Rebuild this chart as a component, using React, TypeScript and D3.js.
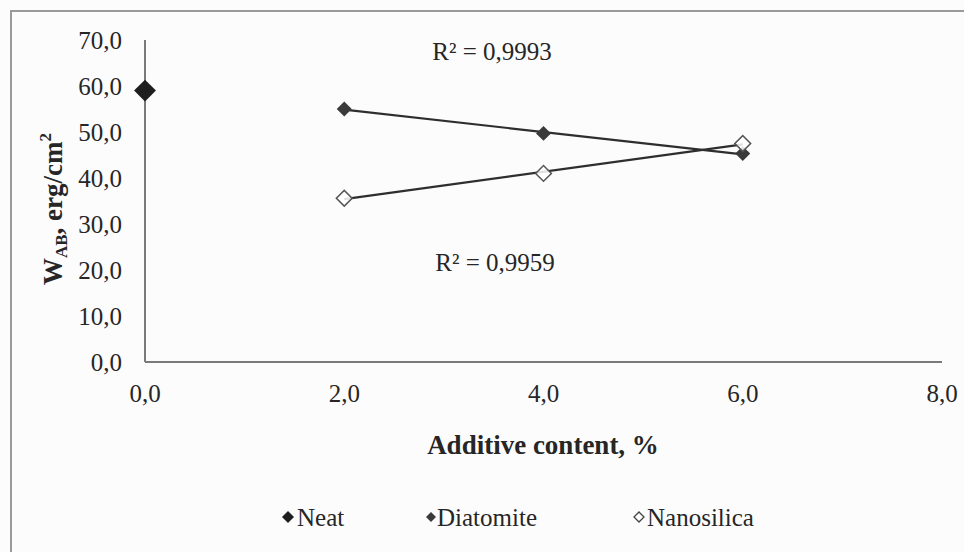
import React from "react";
import * as d3 from "d3";

// Work of adhesion W_AB (erg/cm²) against additive content (%)
const neatX = [0];
const neatY = [59.0];
const contentX = [2, 4, 6];
const diatomiteY = [55.0, 49.7, 45.3];
const nanosilicaY = [35.6, 41.0, 47.5];
const yTicks = [0, 10, 20, 30, 40, 50, 60, 70];
const xTicks = [0, 2, 4, 6, 8];
const r2Labels = ["R² = 0,9993", "R² = 0,9959"];
const legendNames = ["Neat", "Diatomite", "Nanosilica"];

const W = 964;
const H = 552;
const plot = { left: 145, right: 942, top: 40, bottom: 362 };
const serif = "'Liberation Serif', 'Times New Roman', serif";
const ink = "#262626";

const fmt = (v: number) => v.toFixed(1).replace(".", ",");

function linearFit(xs: number[], ys: number[]) {
  const mx = d3.mean(xs)!;
  const my = d3.mean(ys)!;
  let num = 0;
  let den = 0;
  xs.forEach((x, i) => {
    num += (x - mx) * (ys[i] - my);
    den += (x - mx) * (x - mx);
  });
  const slope = num / den;
  return (x: number) => my + slope * (x - mx);
}

const diamond = (size: number) => d3.symbol(d3.symbolSquare, size)()!;

export default function App() {
  const x = d3.scaleLinear().domain([0, 8]).range([plot.left, plot.right]);
  const y = d3.scaleLinear().domain([0, 70]).range([plot.bottom, plot.top]);

  const fitD = linearFit(contentX, diatomiteY);
  const fitN = linearFit(contentX, nanosilicaY);
  const xExt = d3.extent(contentX) as [number, number];
  const line = d3
    .line<number[]>()
    .x((d) => x(d[0]))
    .y((d) => y(d[1]));
  const trendD = line(xExt.map((v) => [v, fitD(v)]))!;
  const trendN = line(xExt.map((v) => [v, fitN(v)]))!;

  const markerNeat = diamond(240);
  const markerDia = diamond(112);
  const markerNano = diamond(125);

  const legendItems = [
    { name: legendNames[0], mx: 288, tx: 297, path: diamond(72), fill: "#1e1e1e", stroke: "none" },
    { name: legendNames[1], mx: 431, tx: 437, path: diamond(50), fill: "#3a3a3a", stroke: "none" },
    { name: legendNames[2], mx: 639, tx: 647, path: diamond(50), fill: "#fff", stroke: "#444" },
  ];

  const txt = { fontFamily: serif, fill: ink };

  return (
    <svg
      width={W}
      height={H}
      style={{ position: "absolute", left: 0, top: 0, background: "#fcfcfc" }}
      fontFamily={serif}
    >
      {/* chart frame */}
      <path d={`M11,${H} V11 H${W}`} fill="none" stroke="#9a9a9a" strokeWidth={2} />

      {/* axes */}
      <line x1={plot.left} x2={plot.left} y1={plot.top} y2={plot.bottom} stroke="#7a7a7a" strokeWidth={2} />
      <line x1={plot.left} x2={plot.right} y1={plot.bottom} y2={plot.bottom} stroke="#7a7a7a" strokeWidth={2} />

      {yTicks.map((t) => (
        <text key={t} x={122} y={y(t)} dy="0.35em" textAnchor="end" fontSize={25} {...txt}>
          {fmt(t)}
        </text>
      ))}
      {xTicks.map((t) => (
        <text key={t} x={x(t)} y={402} textAnchor="middle" fontSize={25} {...txt}>
          {fmt(t)}
        </text>
      ))}

      {/* axis titles */}
      <text x={543} y={454} textAnchor="middle" fontSize={27} fontWeight="bold" {...txt}>
        Additive content, %
      </text>
      <text
        transform="translate(62,209) rotate(-90)"
        textAnchor="middle"
        fontSize={27}
        fontWeight="bold"
        {...txt}
      >
        W<tspan fontSize={17} dy={5}>AB</tspan>
        <tspan dy={-5}>, erg/cm</tspan>
        <tspan fontSize={17} dy={-11}>2</tspan>
      </text>

      {/* trendlines */}
      <path d={trendD} fill="none" stroke="#2e2e2e" strokeWidth={2.2} />
      <path d={trendN} fill="none" stroke="#2e2e2e" strokeWidth={2.2} />

      {/* markers */}
      {neatX.map((v, i) => (
        <path
          key={`n${i}`}
          d={markerNeat}
          transform={`translate(${x(v)},${y(neatY[i])}) rotate(45)`}
          fill="#1e1e1e"
        />
      ))}
      {contentX.map((v, i) => (
        <path
          key={`d${i}`}
          d={markerDia}
          transform={`translate(${x(v)},${y(diatomiteY[i])}) rotate(45)`}
          fill="#3a3a3a"
        />
      ))}
      {contentX.map((v, i) => (
        <path
          key={`s${i}`}
          d={markerNano}
          transform={`translate(${x(v)},${y(nanosilicaY[i])}) rotate(45)`}
          fill="#fff"
          fillOpacity={0.85}
          stroke="#555"
          strokeWidth={1.5}
        />
      ))}

      {/* R² annotations */}
      <text x={492} y={60} textAnchor="middle" fontSize={25} {...txt}>
        {r2Labels[0]}
      </text>
      <text x={495} y={271} textAnchor="middle" fontSize={25} {...txt}>
        {r2Labels[1]}
      </text>

      {/* legend */}
      {legendItems.map((it) => (
        <g key={it.name}>
          <path
            d={it.path}
            transform={`translate(${it.mx},517) rotate(45)`}
            fill={it.fill}
            stroke={it.stroke}
            strokeWidth={1.3}
          />
          <text x={it.tx} y={526} fontSize={25} {...txt}>
            {it.name}
          </text>
        </g>
      ))}
    </svg>
  );
}
